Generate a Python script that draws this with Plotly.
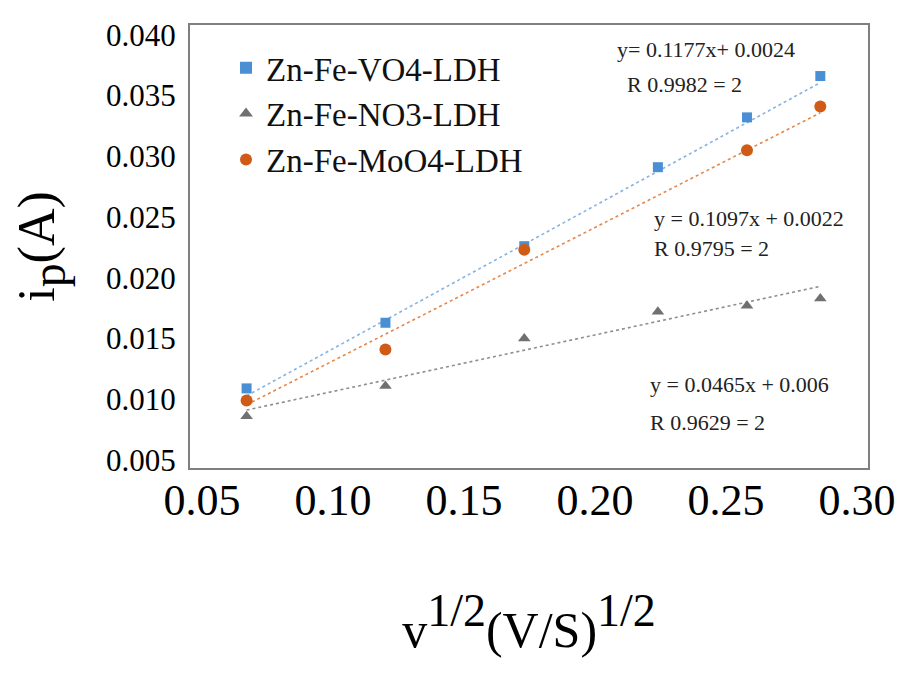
import plotly.graph_objects as go
import numpy as np

# ---- data ----
x_vals = [0.067, 0.120, 0.173, 0.224, 0.258, 0.286]
vo4_vals = [0.0109, 0.0163, 0.0226, 0.0291, 0.0332, 0.0366]
no3_vals = [0.0086, 0.0111, 0.0150, 0.0172, 0.0177, 0.0183]
moo4_vals = [0.0099, 0.0141, 0.0223, None, 0.0305, 0.0341]

series_names = ["Zn-Fe-VO4-LDH", "Zn-Fe-NO3-LDH", "Zn-Fe-MoO4-LDH"]
fit_slopes = [0.1177, 0.0465, 0.1097]
fit_intercepts = [0.0024, 0.006, 0.0022]
fit_labels = [
    ("y= 0.1177x+ 0.0024", "R 0.9982 = 2"),
    ("y = 0.0465x + 0.006", "R 0.9629 = 2"),
    ("y = 0.1097x + 0.0022", "R 0.9795 = 2"),
]
y_ticks = [0.005, 0.010, 0.015, 0.020, 0.025, 0.030, 0.035, 0.040]
x_ticks = [0.05, 0.10, 0.15, 0.20, 0.25, 0.30]

SERIF = "Liberation Serif"
marker_colors = ["#4a8ed3", "#707070", "#cf5b16"]
line_colors = ["#86b2e2", "#8e8e8e", "#e5874a"]
symbols = ["square", "triangle-up", "circle"]
sizes = [10, 11, 12]

fig = go.Figure()
all_y = [vo4_vals, no3_vals, moo4_vals]

# trendlines (from printed fit equations)
x_fit = np.array([min(x_vals), max(x_vals)])
for i in range(3):
    fig.add_trace(go.Scatter(
        x=x_fit, y=fit_slopes[i] * x_fit + fit_intercepts[i],
        mode="lines", line=dict(color=line_colors[i], width=1.6, dash="dot"),
        showlegend=False, hoverinfo="skip"))

for i in range(3):
    fig.add_trace(go.Scatter(
        x=x_vals, y=all_y[i], mode="markers", name=series_names[i],
        marker=dict(symbol=symbols[i], size=sizes[i], color=marker_colors[i])))

# page body adds ~8px offset; compensate
OFF = 8
L, T = 190 - OFF, 18 - OFF
W, H = 907, 674
pw, ph = 678, 450
R = W - L - pw
B = H - T - ph

def px(xp):
    return (xp - OFF - L) / pw

def py(yp):
    return (T + ph - (yp - OFF)) / ph

ann_pos = [(615, 43, 625, 78), (648, 383, 648, 422), (652, 215, 652, 245)]
annotations = []
for (eq, r2), (x1, y1, x2, y2) in zip(fit_labels, ann_pos):
    annotations.append(dict(text=eq, xref="paper", yref="paper", x=px(x1), y=py(y1),
                            xanchor="left", yanchor="middle", showarrow=False,
                            font=dict(family=SERIF, size=22, color="#222")))
    annotations.append(dict(text=r2, xref="paper", yref="paper", x=px(x2), y=py(y2),
                            xanchor="left", yanchor="middle", showarrow=False,
                            font=dict(family=SERIF, size=22, color="#222")))

fig.update_layout(
    width=W, height=H,
    margin=dict(l=L, r=R, t=T, b=B),
    paper_bgcolor="white", plot_bgcolor="white",
    font=dict(family=SERIF, color="black"),
    showlegend=True,
    legend=dict(x=px(226), y=py(33), xanchor="left", yanchor="top",
                font=dict(family=SERIF, size=33, color="#111"),
                bgcolor="rgba(0,0,0,0)", itemsizing="constant", tracegroupgap=0),
    annotations=annotations,
    xaxis=dict(range=[0.0454, 0.3042], tickvals=x_ticks, tickformat=".2f",
               showgrid=False, zeroline=False, showline=True, mirror=True,
               linecolor="#7f7f7f", linewidth=2, ticks="", ticklabelstandoff=-8,
               tickfont=dict(family=SERIF, size=44, color="black"),
               title=dict(text="v<sup><span style='font-size:46px'>1/2</span></sup>(V/S)<sup><span style='font-size:46px'>1/2</span></sup>",
                          font=dict(family=SERIF, size=50, color="black"), standoff=88)),
    yaxis=dict(range=[0.00435, 0.0408], tickvals=y_ticks, tickformat=".3f",
               showgrid=False, zeroline=False, showline=True, mirror=True,
               linecolor="#7f7f7f", linewidth=2, ticks="", ticklabelstandoff=6,
               tickfont=dict(family=SERIF, size=31, color="black"),
               title=dict(text="i<sub><span style='font-size:48px'>p</span></sub>(A)",
                          font=dict(family=SERIF, size=52, color="black"), standoff=50)),
)

fig.write_html("out.html")
